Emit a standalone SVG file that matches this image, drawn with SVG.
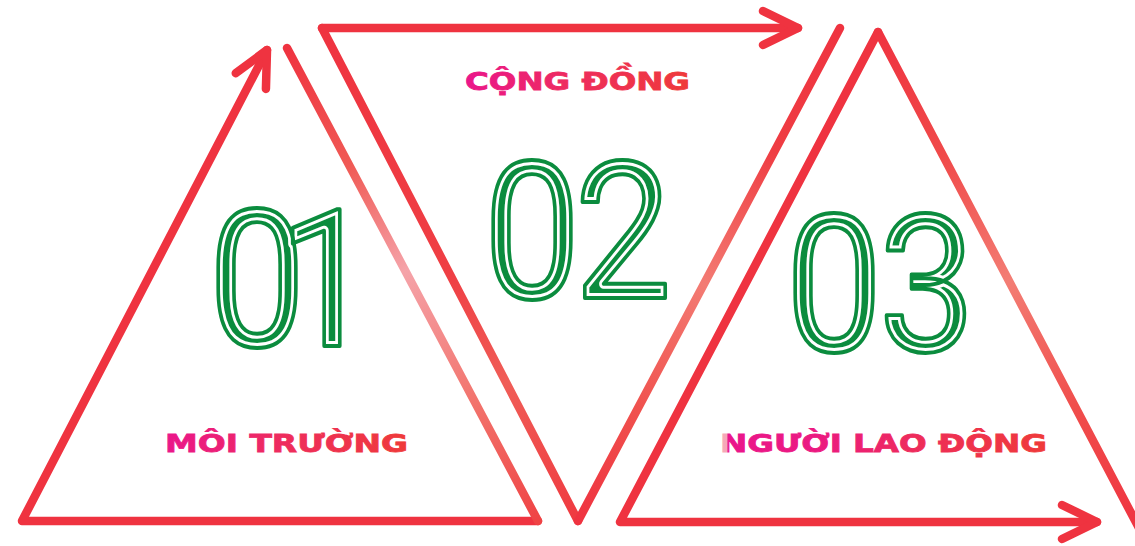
<svg xmlns="http://www.w3.org/2000/svg" xmlns:xlink="http://www.w3.org/1999/xlink" width="1135" height="546" viewBox="0 0 1135 546">
  <style>
    .ln { fill: none; stroke-width: 8.5; stroke-linecap: round; stroke-linejoin: round; }
    .red { stroke: #ef3340; }
    .lbl { font-family: "DejaVu Sans", "Liberation Sans", sans-serif; font-weight: 700; font-size: 25.5px; stroke-width: 0.8; }
    .num { font-family: Roboto, "Open Sans", "Liberation Sans", sans-serif; font-weight: 400; font-size: 192px; text-anchor: middle; }
    .g1 { fill: #0b8c3e; stroke: none; }
    .g2 { fill: none; stroke: #ffffff; stroke-width: 10; stroke-linejoin: round; }
    .g3 { fill: none; stroke: #0b8c3e; stroke-width: 4; stroke-linejoin: round; }
  </style>
  <defs>
    <marker id="arr" markerUnits="userSpaceOnUse" markerWidth="60" markerHeight="60" viewBox="-50 -30 60 60" refX="0" refY="0" orient="auto" overflow="visible">
      <path d="M-35,-17 L0,0 L-35,17" fill="none" stroke="#ef3340" stroke-width="8.5" stroke-linecap="round" stroke-linejoin="round"/>
    </marker>
    <linearGradient id="gr1" gradientUnits="userSpaceOnUse" x1="287" y1="48" x2="538" y2="521">
      <stop offset="0" stop-color="#ef3340"/>
      <stop offset="0.25" stop-color="#f05a55"/>
      <stop offset="0.47" stop-color="#f5a3a9"/>
      <stop offset="0.75" stop-color="#f2736c"/>
      <stop offset="1" stop-color="#ef4344"/>
    </linearGradient>
    <linearGradient id="gr2l" gradientUnits="userSpaceOnUse" x1="322" y1="28" x2="578" y2="521">
      <stop offset="0" stop-color="#ef3340"/>
      <stop offset="0.5" stop-color="#ef3f44"/>
      <stop offset="0.72" stop-color="#f05d57"/>
      <stop offset="1" stop-color="#ef3a40"/>
    </linearGradient>
    <linearGradient id="gr2r" gradientUnits="userSpaceOnUse" x1="840" y1="28" x2="578" y2="521">
      <stop offset="0" stop-color="#ef3340"/>
      <stop offset="0.25" stop-color="#ef3d43"/>
      <stop offset="0.52" stop-color="#f37b73"/>
      <stop offset="0.78" stop-color="#f0504d"/>
      <stop offset="1" stop-color="#ef3340"/>
    </linearGradient>
    <linearGradient id="gr3r" gradientUnits="userSpaceOnUse" x1="878" y1="32" x2="1140" y2="530">
      <stop offset="0" stop-color="#ef3340"/>
      <stop offset="0.25" stop-color="#f04a4a"/>
      <stop offset="0.5" stop-color="#f37d74"/>
      <stop offset="0.75" stop-color="#f04e4c"/>
      <stop offset="1" stop-color="#ef3340"/>
    </linearGradient>
    <linearGradient id="tg1" gradientUnits="userSpaceOnUse" x1="165" y1="0" x2="408" y2="0">
      <stop offset="0" stop-color="#ea168b"/>
      <stop offset="0.5" stop-color="#ee2d5c"/>
      <stop offset="1" stop-color="#ef3a3a"/>
    </linearGradient>
    <linearGradient id="tg2" gradientUnits="userSpaceOnUse" x1="465" y1="0" x2="690" y2="0">
      <stop offset="0" stop-color="#ea168b"/>
      <stop offset="0.5" stop-color="#ee2d5c"/>
      <stop offset="1" stop-color="#ef3a3a"/>
    </linearGradient>
    <linearGradient id="tg3" gradientUnits="userSpaceOnUse" x1="720" y1="0" x2="1047" y2="0">
      <stop offset="0" stop-color="#f6a8b8"/>
      <stop offset="0.02" stop-color="#f6a8b8"/>
      <stop offset="0.025" stop-color="#ea168b"/>
      <stop offset="0.3" stop-color="#eb1a80"/>
      <stop offset="0.65" stop-color="#ee2f55"/>
      <stop offset="1" stop-color="#ef3a3a"/>
    </linearGradient>
    <text id="n01" class="num" y="346" transform="scale(0.9 1)"><tspan x="285.6">0</tspan><tspan x="363">1</tspan></text>
    <text id="n02" class="num" y="298" transform="scale(0.9 1)"><tspan x="591.1">0</tspan><tspan x="692.2">2</tspan></text>
    <text id="n03" class="num" y="351" transform="scale(0.9 1)"><tspan x="926.7">0</tspan><tspan x="1030">3</tspan></text>
  </defs>

  <rect width="1135" height="546" fill="#ffffff"/>

  <g id="connectors">
    <path class="ln red" d="M538,521 L22,521 L267,50" marker-end="url(#arr)"/>
    <path class="ln" stroke="url(#gr1)" d="M287,48 L538,521"/>
    <path class="ln" stroke="url(#gr2l)" d="M578,521 L322,28"/>
    <path class="ln red" d="M322,28 L798,28" marker-end="url(#arr)"/>
    <path class="ln" stroke="url(#gr2r)" d="M840,28 L578,521"/>
    <path class="ln red" d="M878,32 L620,522 L1097,522" marker-end="url(#arr)"/>
    <path class="ln" stroke="url(#gr3r)" d="M878,32 L1140,530"/>
  </g>

  <g id="node-1">
    <use xlink:href="#n01" class="g1"/>
    <use xlink:href="#n01" class="g2"/>
    <use xlink:href="#n01" class="g3"/>
    <text class="lbl" x="165" y="452" fill="url(#tg1)" stroke="url(#tg1)" textLength="243" lengthAdjust="spacingAndGlyphs">MÔI TRƯỜNG</text>
  </g>

  <g id="node-2">
    <use xlink:href="#n02" class="g1"/>
    <use xlink:href="#n02" class="g2"/>
    <use xlink:href="#n02" class="g3"/>
    <text class="lbl" x="465" y="90" fill="url(#tg2)" stroke="url(#tg2)" textLength="225" lengthAdjust="spacingAndGlyphs">CỘNG ĐỒNG</text>
  </g>

  <g id="node-3">
    <use xlink:href="#n03" class="g1"/>
    <use xlink:href="#n03" class="g2"/>
    <use xlink:href="#n03" class="g3"/>
    <text class="lbl" x="720" y="452" fill="url(#tg3)" stroke="url(#tg3)" textLength="327" lengthAdjust="spacingAndGlyphs">NGƯỜI LAO ĐỘNG</text>
  </g>
</svg>
